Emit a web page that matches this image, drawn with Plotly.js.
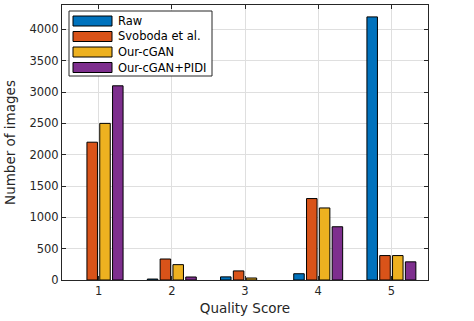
<!DOCTYPE html>
<html>
<head>
<meta charset="utf-8">
<script src="https://cdn.plot.ly/plotly-3.0.1.min.js"></script>
<style>
  html, body { margin: 0; padding: 0; background: #fff; }
  #plot { width: 474px; height: 321px; }
</style>
</head>
<body>
<div id="plot"></div>
<script>
// Данные
const scores = [1, 2, 3, 4, 5];
const tickLabels = ["1", "2", "3", "4", "5"];
const raw = [0, 15, 50, 100, 4200];
const svoboda = [2200, 335, 145, 1300, 390];
const ourCgan = [2500, 245, 32, 1150, 390];
const ourCganPidi = [3100, 48, 0, 850, 290];

const names = ["Raw", "Svoboda et al.", "Our-cGAN", "Our-cGAN+PIDI"];
const colors = ["#0072BD", "#D95319", "#EDB120", "#7E2F8E"];
const series = [raw, svoboda, ourCgan, ourCganPidi];

// Область построения в пикселях
const W = 474, H = 321;
const M = { l: 62, r: 46, t: 5, b: 41 };
const plotW = W - M.l - M.r, plotH = H - M.t - M.b;
const px = (x) => (x - M.l) / plotW;
const py = (y) => (H - M.b - y) / plotH;

let traces = series.map(function (vals, i) {
    return {
        x: scores,
        y: vals,
        type: 'bar',
        name: names[i],
        showlegend: false,
        marker: {
            color: colors[i],
            // нулевые столбцы не рисуем
            line: { color: '#000', width: vals.map((v) => (v > 0 ? 1 : 0)) }
        }
    };
});

// Легенда как в MATLAB: рамка, широкие цветные прямоугольники
let shapes = [{
    type: 'rect', xref: 'paper', yref: 'paper',
    x0: px(69), x1: px(212), y0: py(76), y1: py(11),
    fillcolor: '#fff', line: { color: '#262626', width: 1 }, layer: 'above'
}];
let annotations = [];
names.forEach(function (name, i) {
    let cy = 21 + i * 15.5;
    shapes.push({
        type: 'rect', xref: 'paper', yref: 'paper',
        x0: px(73), x1: px(112), y0: py(cy + 5), y1: py(cy - 5),
        fillcolor: colors[i], line: { color: '#000', width: 1 }, layer: 'above'
    });
    annotations.push({
        xref: 'paper', yref: 'paper', x: px(116), y: py(cy),
        xanchor: 'left', yanchor: 'middle', showarrow: false,
        text: name, font: { size: 11.5, color: '#000' }
    });
});

let layout = {
    width: W,
    height: H,
    margin: M,
    paper_bgcolor: '#fff',
    plot_bgcolor: '#fff',
    font: { family: 'DejaVu Sans, sans-serif', size: 11, color: '#262626' },
    barmode: 'group',
    bargap: 0.3,
    bargroupgap: 0.18,
    showlegend: false,
    shapes: shapes,
    annotations: annotations,
    xaxis: {
        range: [0.5, 5.5],
        tickvals: scores,
        ticktext: tickLabels,
        ticks: 'inside', ticklen: 4, tickcolor: '#262626',
        showline: true, linecolor: '#262626', linewidth: 1, mirror: 'ticks',
        showgrid: true, gridcolor: '#dfdfdf',
        zeroline: false,
        tickfont: { size: 11.5 },
        title: { text: 'Quality Score', font: { size: 13.5 }, standoff: 6 }
    },
    yaxis: {
        range: [0, 4390],
        tickvals: [0, 500, 1000, 1500, 2000, 2500, 3000, 3500, 4000],
        ticks: 'inside', ticklen: 4, tickcolor: '#262626',
        showline: true, linecolor: '#262626', linewidth: 1, mirror: 'ticks',
        showgrid: true, gridcolor: '#dfdfdf',
        zeroline: false,
        tickfont: { size: 11.5 },
        title: { text: 'Number of images', font: { size: 13.5 }, standoff: 10 }
    }
};

Plotly.newPlot('plot', traces, layout, { displayModeBar: false, staticPlot: true });
</script>
</body>
</html>
